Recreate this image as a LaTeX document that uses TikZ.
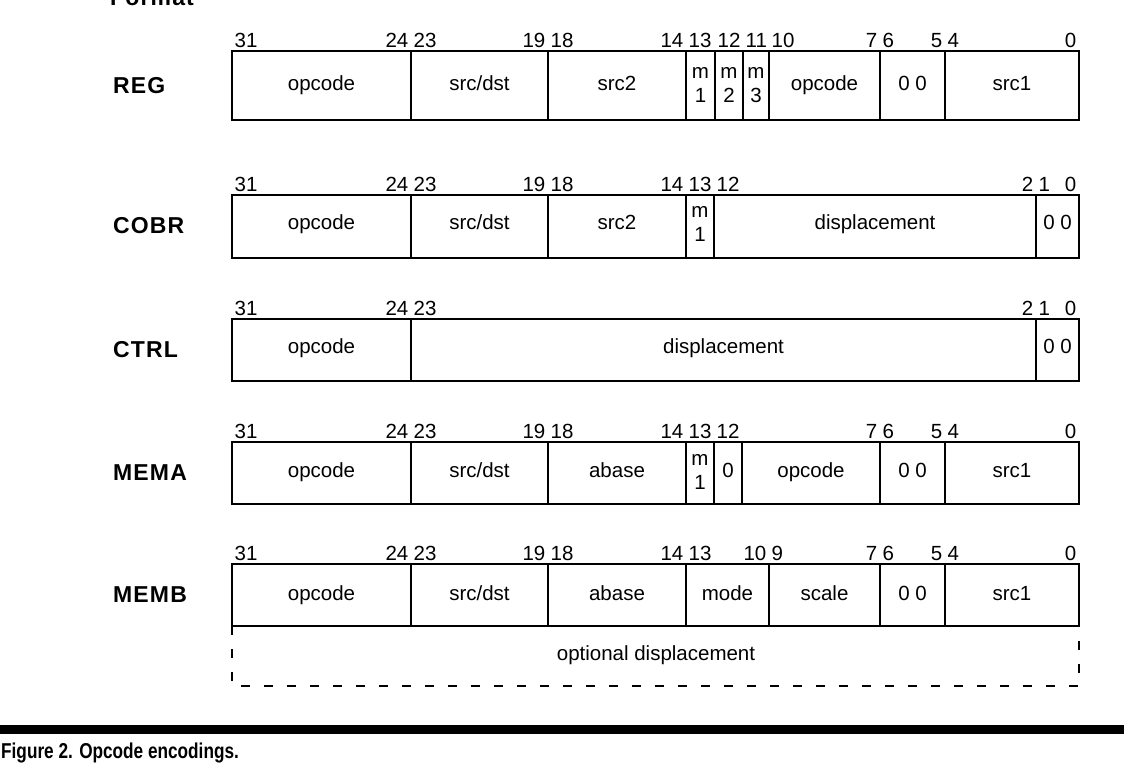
\documentclass[tikz,border=0pt]{standalone}
\usepackage{fontspec}
\setmainfont{Liberation Sans}
\usetikzlibrary{positioning,calc}
\newcommand\srcdst{src/dst}
\newcommand\mb[1]{\strut m\\\strut #1}
\tikzset{
  fld/.style={font=\fontsize{20.5}{24}\selectfont,inner sep=0pt,align=center},
  bitno/.style={font=\fontsize{20.5}{22}\selectfont,inner xsep=2.5pt,inner ysep=1pt},
  fmt/.style={font=\fontsize{23}{26}\selectfont\bfseries\addfontfeature{LetterSpace=5},anchor=west,inner sep=0pt},
  frame/.style={draw,line width=2.2pt},
  sep/.style={draw,line width=1.8pt},
  opt/.style={draw,line width=2.6pt,dash pattern=on 9pt off 14pt},
}

\begin{document}
\begin{tikzpicture}[x=1pt,y=-1pt]
\useasboundingbox (0,0) rectangle (1124,764);
\node[fmt,anchor=base west] (format) at (110,5) {Format};

% REG
\node[fmt] (reg) at (113,86) {REG};
\foreach \xa/\xb/\txt [count=\i] in {232/411/opcode,411/548/\srcdst,548/686/src2,686/715/\mb1,715/743/\mb2,743/769/\mb3,769/880/opcode,880/945/0 0,945/1079/src1}{
  \node[fld] (reg-f\i) at ({(\xa+\xb)/2},86) {\strut\txt};
  \draw[sep] (\xb,51) -- (\xb,120);
}
\draw[frame] (232,51) rectangle (1079,120);
\foreach \x/\a/\n [count=\i] in {232/south west/31,411/south east/24,411/south west/23,548/south east/19,548/south west/18,686/south east/14,686/south west/13,715/south west/12,743/south west/11,769/south west/10,880/south east/7,880/south west/6,945/south east/5,945/south west/4,1079/south east/0}
  \node[bitno,anchor=\a] (reg-b\i) at (\x,49) {\n};

% COBR
\node[fmt] (cobr) at (113,226) {COBR};
\foreach \xa/\xb/\txt [count=\i] in {232/411/opcode,411/548/\srcdst,548/686/src2,686/714/\mb1,714/1036/displacement,1036/1079/0 0}{
  \node[fld] (cobr-f\i) at ({(\xa+\xb)/2},225) {\strut\txt};
  \draw[sep] (\xb,195) -- (\xb,258);
}
\draw[frame] (232,195) rectangle (1079,258);
\foreach \x/\a/\n [count=\i] in {232/south west/31,411/south east/24,411/south west/23,548/south east/19,548/south west/18,686/south east/14,686/south west/13,714/south west/12,1036/south east/2,1036/south west/1,1079/south east/0}
  \node[bitno,anchor=\a] (cobr-b\i) at (\x,193) {\n};

% CTRL
\node[fmt] (ctrl) at (113,350) {CTRL};
\foreach \xa/\xb/\txt [count=\i] in {232/411/opcode,411/1036/displacement,1036/1079/0 0}{
  \node[fld] (ctrl-f\i) at ({(\xa+\xb)/2},349) {\strut\txt};
  \draw[sep] (\xb,319) -- (\xb,381);
}
\draw[frame] (232,319) rectangle (1079,381);
\foreach \x/\a/\n [count=\i] in {232/south west/31,411/south east/24,411/south west/23,1036/south east/2,1036/south west/1,1079/south east/0}
  \node[bitno,anchor=\a] (ctrl-b\i) at (\x,317) {\n};

% MEMA
\node[fmt] (mema) at (113,473) {MEMA};
\foreach \xa/\xb/\txt [count=\i] in {232/411/opcode,411/548/\srcdst,548/686/abase,686/714/\mb1,714/742/0,742/880/opcode,880/945/0 0,945/1079/src1}{
  \node[fld] (mema-f\i) at ({(\xa+\xb)/2},473) {\strut\txt};
  \draw[sep] (\xb,442) -- (\xb,504);
}
\draw[frame] (232,442) rectangle (1079,504);
\foreach \x/\a/\n [count=\i] in {232/south west/31,411/south east/24,411/south west/23,548/south east/19,548/south west/18,686/south east/14,686/south west/13,714/south west/12,880/south east/7,880/south west/6,945/south east/5,945/south west/4,1079/south east/0}
  \node[bitno,anchor=\a] (mema-b\i) at (\x,440) {\n};

% MEMB
\node[fmt] (memb) at (113,595) {MEMB};
\foreach \xa/\xb/\txt [count=\i] in {232/411/opcode,411/548/\srcdst,548/686/abase,686/769/mode,769/880/scale,880/945/0 0,945/1079/src1}{
  \node[fld] (memb-f\i) at ({(\xa+\xb)/2},596) {\strut\txt};
  \draw[sep] (\xb,564) -- (\xb,626);
}
\draw[frame] (232,564) rectangle (1079,626);
\foreach \x/\a/\n [count=\i] in {232/south west/31,411/south east/24,411/south west/23,548/south east/19,548/south west/18,686/south east/14,686/south west/13,769/south east/10,769/south west/9,880/south east/7,880/south west/6,945/south east/5,945/south west/4,1079/south east/0}
  \node[bitno,anchor=\a] (memb-b\i) at (\x,562) {\n};
\draw[opt] (232,626) -- (232,686) -- (1079,686) -- (1079,626);
\node[fld] (optdisp) at (656,656) {\strut optional displacement};

% rule and caption
\fill (0,725) rectangle (1124,734);
\node[anchor=base west,inner sep=0pt,font=\fontsize{21.5}{24}\selectfont\bfseries] (cap) at (1,758) {\scalebox{0.8}[1]{Figure 2. Opcode encodings.}};
\end{tikzpicture}
\end{document}
